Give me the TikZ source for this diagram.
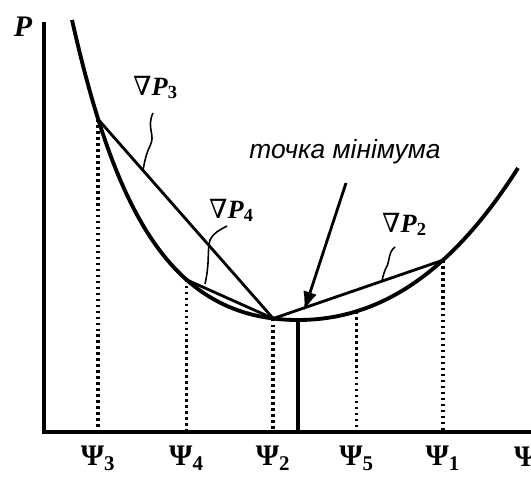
\documentclass[tikz,border=0pt]{standalone}
\usepackage{fontspec}
\setmainfont{Liberation Serif}
\setsansfont{Liberation Sans}
\newfontfamily\nablafont{DejaVu Serif}
\usetikzlibrary{arrows.meta}

\newcommand{\psilabel}[1]{\textbf{Ψ\textsubscript{#1}}}
\newcommand{\gradlabel}[1]{{\nablafont ∇}\textbf{\textit{P}\textsubscript{#1}}}

\begin{document}
\begin{tikzpicture}[x=0.02cm, y=-0.02cm,
    axisline/.style={line width=2.2pt},
    curveline/.style={line width=2.2pt},
    chord/.style={line width=1.6pt},
    guide/.style={line width=2.2pt, dash pattern=on 1.4pt off 2pt},
    squig/.style={line width=0.9pt},
    xlabel/.style={font=\fontsize{17}{19}\selectfont, anchor=base},
    glabel/.style={font=\fontsize{15}{17}\selectfont, anchor=base west}]
  \useasboundingbox (0,0) rectangle (531,480);

  % axes
  \coordinate (origin) at (44,432);
  \coordinate (ytop) at (44,22);
  \coordinate (xend) at (531,432);
  \draw[axisline] (ytop) -- (origin) -- (xend);
  \node[font=\fontsize{17}{19}\selectfont\bfseries\itshape] (plabel) at (23,27) {P};

  % the curve, with the points on it
  \coordinate (ctop) at (72,20);
  \coordinate (pmin) at (298,320);
  \coordinate (cend) at (518,168);
  \draw[curveline] (ctop) .. controls (115,210) and (170,320) .. (pmin)
    coordinate[pos=0.19] (p3) coordinate[pos=0.645] (p4) coordinate[pos=0.933] (p2)
    .. controls (378,320) and (450,275) .. (cend)
    coordinate[pos=0.25] (p5) coordinate[pos=0.64] (p1);

  % chords
  \draw[chord] (p3) -- (p2);
  \draw[chord] (p4) -- (p2);
  \draw[chord] (p2) -- (p1);

  % guides down to the axis
  \foreach \p/\n in {p3/3, p4/4, p2/2, p5/5, p1/1}{
    \coordinate (b\p) at (\p |- origin);
    \draw[guide] (\p) -- (b\p);
    \node[xlabel] (l\p) at ([yshift=-0.68cm]b\p) {\psilabel{\n}};
  }
  \node[xlabel, anchor=base west] (lpsi) at (508,466) {\textbf{Ψ}};

  % minimum
  \coordinate (bmin) at (pmin |- origin);
  \draw[line width=1.8pt] (pmin) -- (bmin);
  \node[font=\fontsize{15}{17}\selectfont\sffamily\itshape] (mintext) at (345,152) {точка мінімума};
  \coordinate (arrtail) at (346,183);
  \coordinate (arrtip) at (304,311);
  \draw[line width=1.6pt, -{Latex[length=11pt, width=8pt]}] (arrtail) -- (arrtip);

  % gradient labels
  \node[glabel] (g3) at (127,95) {\gradlabel{3}};
  \node[glabel] (g4) at (203,218) {\gradlabel{4}};
  \node[glabel] (g2) at (376,232) {\gradlabel{2}};
  \draw[squig] (153,113) .. controls (146,128) and (156,135) .. (150,146) .. controls (146,154) and (145,160) .. (143,170);
  \draw[squig] (227,226) .. controls (220,230) and (214,232) .. (210,240) .. controls (207,250) and (210,262) .. (205,284);
  \draw[squig] (395,247) .. controls (388,252) and (390,262) .. (386,268) .. controls (384,272) and (383,276) .. (382,281);
\end{tikzpicture}
\end{document}
